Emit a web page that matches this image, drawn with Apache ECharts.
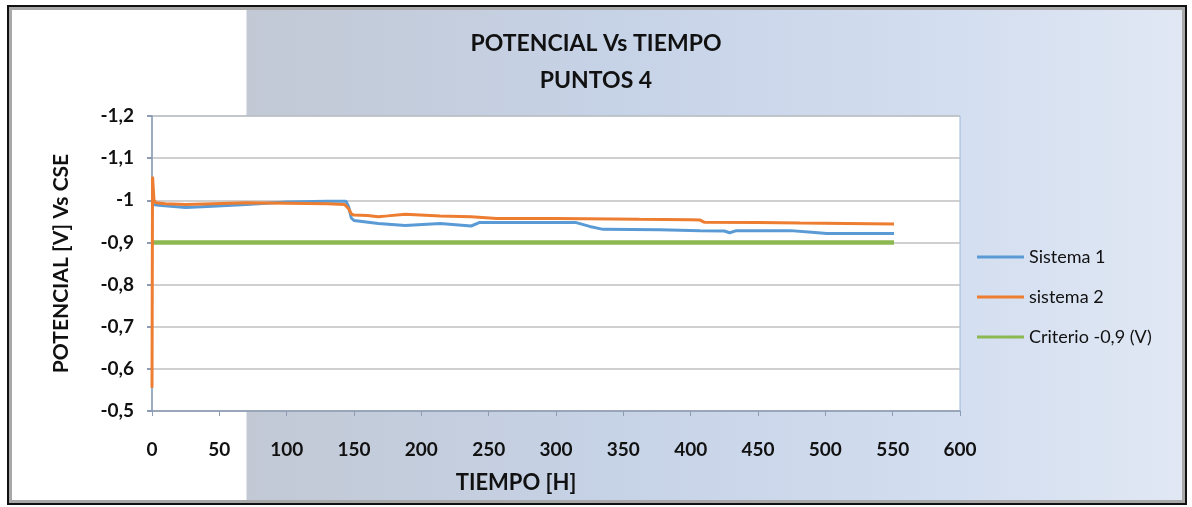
<!DOCTYPE html>
<html>
<head>
<meta charset="utf-8">
<script src="https://cdn.jsdelivr.net/npm/echarts@6/dist/echarts.min.js"></script>
<style>
	html, body { margin: 0; padding: 0; background: #fff; }
	#frame {
		position: absolute; left: 7px; top: 5px; width: 1176px; height: 496px;
		border: 2px solid #111;
		box-shadow: inset 0 0 0 3px #a8a8a8;
		background: linear-gradient(to right, #fff 0, #fff 237px, #c2c9d5 238px, #c6d2e6 600px, #d3def0 950px, #e1e8f4 1176px);
	}
	#main { position: absolute; left: 0; top: 0; width: 1192px; height: 507px; }
</style>
</head>
<body>
<div id="frame"></div>
<div id="main"></div>
<script>
//eje X (horas)
var xTicks = [0, 50, 100, 150, 200, 250, 300, 350, 400, 450, 500, 550, 600];
//eje Y (V)
var yTicks = [-1.2, -1.1, -1, -0.9, -0.8, -0.7, -0.6, -0.5];

//Sistema 1
var tiempo1 = [0, 1, 5, 25, 45, 70, 100, 130, 144, 146, 148, 150, 168, 188, 214, 237, 243, 260, 300, 315, 325, 335, 377, 407, 425, 429, 434, 474, 490, 501, 551];
var sistema1 = [-0.995, -0.99, -0.988, -0.983, -0.986, -0.990, -0.996, -0.998, -0.998, -0.985, -0.958, -0.952, -0.945, -0.940, -0.945, -0.939, -0.947, -0.947, -0.947, -0.947, -0.938, -0.931, -0.930, -0.928, -0.927, -0.923, -0.928, -0.928, -0.924, -0.921, -0.921];

//sistema 2
var tiempo2 = [0, 0.4, 1.5, 3, 10, 25, 45, 70, 100, 130, 143, 146, 148, 150, 160, 168, 175, 188, 214, 237, 256, 300, 362, 400, 407, 410, 450, 481, 551];
var sistema2 = [-0.555, -1.056, -1.0, -0.994, -0.992, -0.990, -0.992, -0.994, -0.993, -0.992, -0.990, -0.98, -0.968, -0.965, -0.964, -0.961, -0.963, -0.967, -0.963, -0.961, -0.957, -0.957, -0.955, -0.954, -0.953, -0.948, -0.947, -0.946, -0.944];

//Criterio -0,9 (V)
var tiempoC = [0, 551];
var criterio = [-0.9, -0.9];

var pares = function(xs, ys) {
	var out = [];
	for(var i = 0; i < xs.length; i++) {
		out.push([xs[i], ys[i]]);
	}
	return out;
};

var fuente = 'Lato, "Open Sans", sans-serif';

var chart = echarts.init(document.getElementById('main'));
chart.setOption({
	textStyle: { fontFamily: fuente },
	title: {
		text: 'POTENCIAL Vs TIEMPO\nPUNTOS 4',
		left: 'center',
		top: 20,
		textStyle: {
			fontFamily: fuente,
			fontSize: 23,
			fontWeight: 'bold',
			color: '#111',
			lineHeight: 37
		}
	},
	legend: {
		orient: 'vertical',
		left: 972,
		top: 243,
		icon: 'rect',
		itemWidth: 47,
		itemHeight: 3,
		itemGap: 22,
		textStyle: { fontFamily: fuente, fontSize: 18, color: '#111', lineHeight: 18 },
		data: ['Sistema 1', 'sistema 2', 'Criterio -0,9 (V)']
	},
	grid: {
		left: 152,
		right: 232,
		top: 116,
		bottom: 96,
		show: true,
		backgroundColor: '#fff',
		borderColor: '#9cb8de',
		borderWidth: 1
	},
	xAxis: {
		type: 'value',
		min: 0,
		max: 600,
		interval: 50,
		name: 'TIEMPO [H]',
		nameLocation: 'middle',
		nameGap: 61,
		nameTextStyle: {
			fontFamily: fuente, fontSize: 22, fontWeight: 'bold', color: '#111',
			padding: [0, 80, 0, 0]
		},
		axisLine: { show: true, lineStyle: { color: '#8d9cb3', width: 1.5 } },
		axisTick: { show: true, length: 5, lineStyle: { color: '#8d9cb3' } },
		axisLabel: { margin: 29, fontSize: 19, fontWeight: 'bold', color: '#111' },
		splitLine: { show: false }
	},
	yAxis: {
		type: 'value',
		inverse: true,
		min: -1.2,
		max: -0.5,
		interval: 0.1,
		name: 'POTENCIAL [V] Vs CSE',
		nameLocation: 'middle',
		nameGap: 80,
		nameTextStyle: { fontFamily: fuente, fontSize: 21, fontWeight: 'bold', color: '#111' },
		axisLine: { show: true, lineStyle: { color: '#8d9cb3', width: 1.5 } },
		axisTick: { show: true, length: 5, lineStyle: { color: '#8d9cb3', width: 2 } },
		axisLabel: {
			margin: 18,
			fontSize: 19,
			fontWeight: 'bold',
			color: '#111',
			formatter: function(v) {
				return String(Math.round(v * 10) / 10).replace('.', ',');
			}
		},
		splitLine: { show: true, lineStyle: { color: '#c0c0c0', width: 1.5 } }
	},
	series: [{
		name: 'Sistema 1',
		type: 'line',
		symbol: 'none',
		color: '#5b9bd5',
		lineStyle: { width: 3, color: '#5b9bd5' },
		data: pares(tiempo1, sistema1),
		z: 3
	}, {
		name: 'sistema 2',
		type: 'line',
		symbol: 'none',
		color: '#ed7d31',
		lineStyle: { width: 3, color: '#ed7d31' },
		data: pares(tiempo2, sistema2),
		z: 4
	}, {
		name: 'Criterio -0,9 (V)',
		type: 'line',
		symbol: 'none',
		color: '#8cb852',
		lineStyle: { width: 4.5, color: '#8cb852' },
		data: pares(tiempoC, criterio),
		z: 2
	}]
});
</script>
</body>
</html>
